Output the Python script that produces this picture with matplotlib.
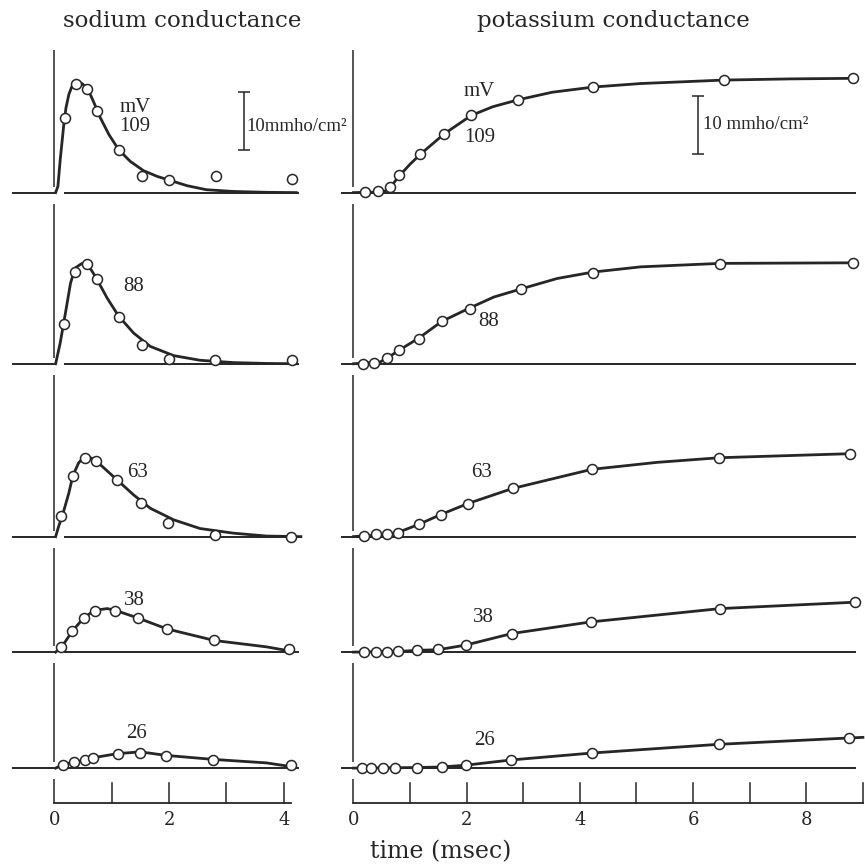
import matplotlib
matplotlib.use("Agg")
import matplotlib.pyplot as plt

plt.rcParams["font.family"] = "DejaVu Serif"

INK = "#262626"

# ── Data (t in msec, g in mmho/cm²) ───────────────────────────────────────
voltages = [109, 88, 63, 38, 26]

# sodium: open circles (measured) and smooth curve (theory)
na_dot_t = [
    [0.19, 0.37, 0.57, 0.75, 1.12, 1.52, 1.99, 2.82, 4.15],
    [0.17, 0.35, 0.57, 0.74, 1.12, 1.52, 2.00, 2.80, 4.15],
    [0.12, 0.32, 0.54, 0.73, 1.09, 1.51, 1.98, 2.80, 4.12],
    [0.12, 0.31, 0.51, 0.70, 1.06, 1.45, 1.96, 2.79, 4.10],
    [0.15, 0.34, 0.54, 0.68, 1.10, 1.50, 1.94, 2.77, 4.13],
]
na_dot_g = [
    [12.9, 18.8, 17.9, 14.0, 7.3, 2.8, 2.2, 2.8, 2.4],
    [6.8, 15.9, 17.2, 14.6, 8.0, 3.3, 0.9, 0.6, 0.6],
    [3.6, 10.5, 13.5, 13.1, 9.8, 5.8, 2.4, 0.3, 0.0],
    [0.8, 3.6, 5.9, 7.0, 7.0, 5.9, 4.0, 2.0, 0.5],
    [0.6, 1.0, 1.4, 1.7, 2.4, 2.6, 2.1, 1.4, 0.6],
]
na_fit_t = [
    [0.02, 0.06, 0.10, 0.16, 0.20, 0.25, 0.30, 0.35, 0.41, 0.48, 0.58,
     0.68, 0.80, 0.95, 1.12, 1.32, 1.55, 1.79, 2.02, 2.31, 2.65, 3.12,
     3.70, 4.22],
    [0.02, 0.10, 0.19, 0.28, 0.36, 0.48, 0.58, 0.71, 0.92, 1.12, 1.38,
     1.67, 2.08, 2.54, 3.12, 3.70, 4.22],
    [0.02, 0.07, 0.14, 0.25, 0.32, 0.42, 0.54, 0.65, 0.80, 1.09, 1.38,
     1.67, 2.08, 2.54, 3.12, 3.70, 4.30],
    [0.02, 0.12, 0.31, 0.51, 0.70, 0.92, 1.06, 1.45, 1.96, 2.79, 3.70, 4.10],
    [0.02, 0.15, 0.34, 0.54, 0.68, 1.10, 1.50, 1.94, 2.77, 3.70, 4.10],
]
na_fit_g = [
    [0, 1.1, 5.7, 11.5, 14.6, 16.9, 18.2, 18.8, 19.0, 18.8, 17.9,
     15.7, 12.9, 10.0, 7.4, 5.4, 3.8, 2.8, 2.1, 1.2, 0.5, 0.2,
     0.05, 0],
    [0, 3.6, 8.7, 13.9, 16.5, 17.3, 17.1, 15.1, 11.3, 8.2, 5.3,
     3.0, 1.4, 0.6, 0.2, 0.05, 0],
    [0, 1.7, 3.7, 7.5, 10.5, 12.7, 14.0, 13.5, 12.4, 9.8, 7.2,
     4.9, 2.9, 1.4, 0.6, 0.1, 0],
    [0, 0.8, 3.6, 5.9, 7.2, 7.5, 7.2, 5.9, 4.0, 2.0, 0.9, 0.2],
    [0, 0.6, 1.0, 1.4, 1.8, 2.5, 2.8, 2.2, 1.5, 0.9, 0.3],
]

# potassium
k_dot_t = [
    [0.21, 0.43, 0.64, 0.81, 1.18, 1.60, 2.08, 2.91, 4.24, 6.55, 8.83],
    [0.17, 0.36, 0.60, 0.80, 1.15, 1.56, 2.05, 2.96, 4.23, 6.48, 8.82],
    [0.18, 0.39, 0.59, 0.78, 1.15, 1.54, 2.02, 2.81, 4.21, 6.46, 8.78],
    [0.18, 0.39, 0.59, 0.78, 1.12, 1.49, 1.98, 2.80, 4.19, 6.48, 8.86],
    [0.15, 0.31, 0.53, 0.74, 1.13, 1.56, 1.98, 2.78, 4.21, 6.45, 8.76],
]
k_dot_g = [
    [0.1, 0.2, 1.0, 3.0, 6.6, 10.1, 13.3, 16.0, 18.2, 19.4, 19.7],
    [0.0, 0.2, 1.0, 2.3, 4.3, 7.3, 9.5, 12.9, 15.7, 17.2, 17.4],
    [0.1, 0.4, 0.5, 0.7, 2.1, 3.8, 5.7, 8.3, 11.6, 13.6, 14.3],
    [0.0, 0.0, 0.0, 0.2, 0.4, 0.5, 1.2, 3.2, 5.2, 7.5, 8.6],
    [0.0, 0.0, 0.1, 0.0, 0.1, 0.2, 0.6, 1.4, 2.6, 4.1, 5.2],
]
k_fit_t = [
    [0, 0.53, 0.65, 0.81, 1.0, 1.18, 1.60, 2.08, 2.46, 2.91, 3.51, 4.24,
     5.07, 6.55, 7.72, 8.83],
    [0, 0.47, 0.60, 0.80, 1.15, 1.56, 2.05, 2.48, 2.96, 3.60, 4.23, 5.07,
     6.48, 8.82],
    [0, 0.50, 0.78, 1.15, 1.54, 2.02, 2.81, 3.53, 4.21, 5.36, 6.46, 8.78],
    [0, 0.78, 1.12, 1.49, 1.98, 2.80, 4.19, 6.48, 8.86],
    [0, 1.13, 1.56, 1.98, 2.78, 4.21, 6.45, 8.76, 9.0],
]
k_fit_g = [
    [0, 0.1, 0.9, 2.9, 4.9, 6.6, 10.1, 13.3, 14.8, 16.0, 17.3, 18.2,
     18.8, 19.4, 19.6, 19.7],
    [0, 0.3, 1.0, 2.3, 4.4, 7.3, 9.6, 11.5, 12.9, 14.7, 15.8, 16.7,
     17.3, 17.4],
    [0, 0.3, 0.7, 2.1, 3.8, 5.7, 8.3, 10.0, 11.6, 12.8, 13.6, 14.3],
    [0, 0.1, 0.3, 0.4, 1.2, 3.2, 5.2, 7.5, 8.6],
    [0, 0.1, 0.2, 0.5, 1.4, 2.6, 4.1, 5.2, 5.3],
]

# ── Layout (figure is 865 px; 5.8 px per mmho/cm²) ─────────────────────────
row_offset = [105.2, 75.7, 45.9, 26.0, 6.0]   # baseline of each record
axis_top = 129.8
tick_len = 3.45

fig = plt.figure(figsize=(8.65, 8.65), dpi=100)
fig.patch.set_facecolor("white")

ax_na = fig.add_axes([0, 0, 346 / 865, 1])
ax_na.set_xlim(-0.951, 5.087)
ax_k = fig.add_axes([328.7 / 865, 0, 1 - 328.7 / 865, 1])
ax_k.set_xlim(-0.438, 9.037)
for ax in (ax_na, ax_k):
    ax.set_ylim(-10.7, 138.4)
    ax.axis("off")
    ax.patch.set_alpha(0)


def frame(ax, base_x, t_end, n_ticks, labels):
    # vertical axis, broken at each baseline
    tops = [axis_top] + [o - 1.9 for o in row_offset]
    bots = [o + 1.0 for o in row_offset] + [0]
    for hi, lo in zip(tops, bots):
        ax.plot([0, 0], [lo, hi], color=INK, lw=1.1, solid_capstyle="butt")
    # time axis with inward ticks
    ax.plot([0, t_end], [0, 0], color=INK, lw=1.3)
    for k in range(1, n_ticks + 1):
        ax.plot([k, k], [0, tick_len], color=INK, lw=1.1)
    for k in labels:
        ax.text(k, -2.9, str(k), ha="center", va="center", fontsize=13,
                color=INK)
    # baselines
    for off in row_offset:
        for x0, x1 in base_x:
            ax.plot([x0, x1], [off, off], color=INK, lw=1.4)


frame(ax_na, [(-0.73, 0.0), (0.18, 4.25)], 4.12, 4, [0, 2, 4])
frame(ax_k, [(-0.21, 8.86)], 9.0, 9, [0, 2, 4, 6, 8])


def records(ax, fit_t, fit_g, dot_t, dot_g):
    for off, ft, fg, dt, dg in zip(row_offset, fit_t, fit_g, dot_t, dot_g):
        ax.plot(ft, [g + off for g in fg], color=INK, lw=2.0, zorder=3,
                solid_joinstyle="round")
        ax.plot(dt, [g + off for g in dg], ls="none", marker="o", ms=7.2,
                mfc="white", mec=INK, mew=1.1, zorder=4)


records(ax_na, na_fit_t, na_fit_g, na_dot_t, na_dot_g)
records(ax_k, k_fit_t, k_fit_g, k_dot_t, k_dot_g)

# ── Voltage labels ─────────────────────────────────────────────────────────
lab = dict(fontsize=15, color=INK, family="Liberation Serif", va="center")
na_lab_pos = [(1.13, 11.4), (1.38, 13.3), (1.45, 11.0), (1.40, 8.9), (1.43, 5.9)]
k_lab_pos = [(2.23, 9.5), (2.38, 7.2), (2.27, 11.1), (2.29, 5.9), (2.32, 4.8)]
for v, off, (tn, gn), (tk, gk) in zip(voltages, row_offset, na_lab_pos, k_lab_pos):
    ax_na.text(tn, gn + off, str(v), ha="left" if v == 109 else "center", **lab)
    ax_k.text(tk, gk + off, str(v), ha="center", **lab)
ax_na.text(1.13, 14.6 + row_offset[0], "mV", ha="left", **lab)
ax_k.text(2.23, 17.5 + row_offset[0], "mV", ha="center", **lab)

# ── 10 mmho/cm² scale bars ─────────────────────────────────────────────────
for ax, x, lo, txt_x, txt_y, txt in (
        (ax_na, 3.30, 7.4, 3.35, 11.4, "10mmho/cm²"),
        (ax_k, 6.09, 6.6, 6.18, 11.8, "10 mmho/cm²")):
    ax.errorbar([x], [lo + 5 + row_offset[0]], yerr=[5], color=INK,
                lw=1.1, capsize=4.5, capthick=1.1)
    ax.text(txt_x, txt_y + row_offset[0], txt, fontsize=13.5, color=INK,
            family="Liberation Serif", ha="left", va="center")

# ── Titles ─────────────────────────────────────────────────────────────────
fig.text(182 / 865, 1 - 21 / 865, "sodium conductance", ha="center",
         va="center", fontsize=16.5, color=INK)
fig.text(613 / 865, 1 - 21 / 865, "potassium conductance", ha="center",
         va="center", fontsize=16.5, color=INK)
fig.text(441 / 865, 1 - 852 / 865, "time (msec)", ha="center", va="center",
         fontsize=17, color=INK)

fig.savefig("out.png", dpi=100, facecolor="white")
